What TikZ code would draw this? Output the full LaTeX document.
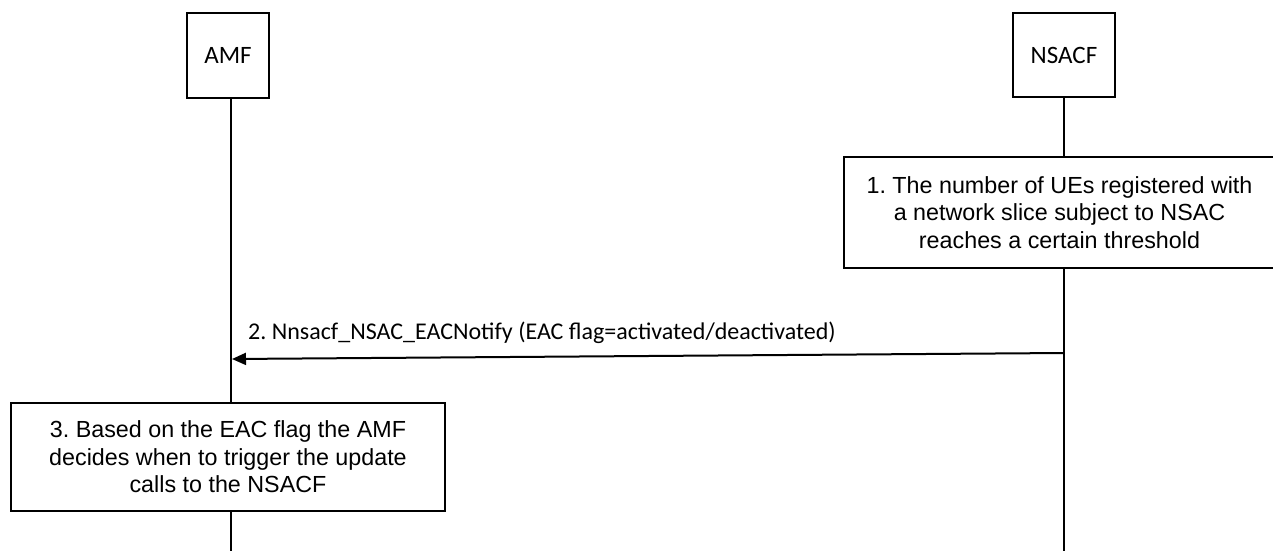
\documentclass[tikz,border=0pt]{standalone}
\usepackage{fontspec}
\setmainfont{Liberation Sans}
\newfontfamily\calfont{Carlito}
\usetikzlibrary{arrows.meta}
\frenchspacing
\begin{document}
\begin{tikzpicture}[x=1pt,y=-1pt,
  entity/.style={draw, line width=1.6pt, minimum width=82pt, minimum height=85pt, inner sep=0pt, font=\calfont\fontsize{25}{29}\selectfont},
  stepbox/.style={draw, line width=1.3pt, fill=white, inner sep=0pt, align=center, font=\fontsize{23.3}{27.5}\selectfont},
  life/.style={line width=2pt},
  msg/.style={line width=2pt, -{Triangle[length=14pt,width=12pt]}},
  msglabel/.style={font=\calfont\fontsize{24}{28}\selectfont, inner sep=0pt}
]
\useasboundingbox (0,0) rectangle (1273,551);
\node[entity] (amf) at (228,55.5) {AMF};
\node[entity, minimum width=102pt, minimum height=84pt] (nsacf) at (1064,55) {NSACF};
\coordinate (amfend) at (231,551);
\coordinate (nsacfend) at (1064,551);
\draw[life] (amf.south -| amfend) -- (amfend);
\draw[life] (nsacf.south) -- (nsacfend);
\node[stepbox, minimum width=431pt, minimum height=111pt] (s1) at (1059.5,212.5)
  {1. The number of UEs registered with\\a network slice subject to NSAC\\reaches a certain threshold};
\coordinate (a2s) at (1064,353);
\coordinate (a2e) at (232,359);
\draw[msg] (a2s) -- (a2e);
\node[msglabel, anchor=west] (l2) at (248,333) {2. Nnsacf\_NSAC\_EACNotify (EAC flag=activated/deactivated)};
\node[stepbox, minimum width=434pt, minimum height=108pt] (s3) at (228,457)
  {3. Based on the EAC flag the AMF\\decides when to trigger the update\\calls to the NSACF};
\end{tikzpicture}
\end{document}
